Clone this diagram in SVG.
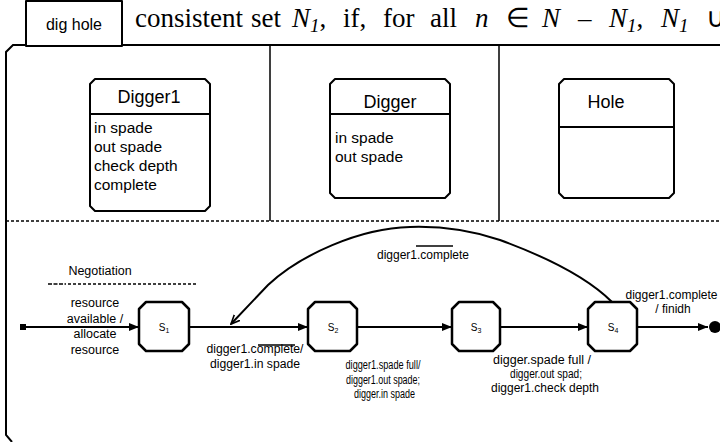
<svg xmlns="http://www.w3.org/2000/svg" width="720" height="442" viewBox="0 0 720 442">
<defs>
<style>
.sans{font-family:"Liberation Sans",Arial,sans-serif;fill:#000}
.serif{font-family:"Liberation Serif","Times New Roman",serif;fill:#000;font-size:27px}
.it{font-style:italic}
.box{fill:#fff;stroke:#000;stroke-width:2;stroke-linejoin:round}
.state{fill:#fff;stroke:#000;stroke-width:2.5;stroke-linejoin:round}
.rule{fill:none;stroke:#000;stroke-width:2}
.thin{fill:none;stroke:#000;stroke-width:1.5}
.dot{fill:none;stroke:#000;stroke-width:1.5;stroke-dasharray:3 2}
.edge{fill:none;stroke:#000;stroke-width:2}
.title{font-size:18px;text-anchor:middle}
.attr{font-size:15.5px}
.lbl{font-size:12px;text-anchor:middle}
.sm{font-size:12.5px;text-anchor:middle}
.sname{font-size:10px;text-anchor:middle}
</style>
<marker id="head" viewBox="0 0 10 8" refX="10" refY="4" markerWidth="10" markerHeight="8" markerUnits="userSpaceOnUse" orient="auto">
<path d="M0,0 L10,4 L0,8 Z" fill="#000"/>
</marker>
<marker id="vhead" viewBox="0 0 10 10" refX="9" refY="5" markerWidth="10" markerHeight="10" markerUnits="userSpaceOnUse" orient="auto">
<path d="M0,1 L9,5 L0,9" fill="none" stroke="#000" stroke-width="1.6"/>
</marker>
</defs>

<!-- running text line above the frame -->
<g id="caption">
<text class="serif" y="27"><tspan x="135">consistent</tspan><tspan x="251">set</tspan><tspan x="292" class="it">N</tspan><tspan class="it" font-size="19" dy="5">1</tspan><tspan dy="-5">,</tspan><tspan x="343">if,</tspan><tspan x="383">for</tspan><tspan x="430">all</tspan><tspan x="475" class="it">n</tspan><tspan x="506">∈</tspan><tspan x="542" class="it">N</tspan><tspan x="578">–</tspan><tspan x="609" class="it">N</tspan><tspan class="it" font-size="19" dy="5">1</tspan><tspan dy="-5">,</tspan><tspan x="661" class="it">N</tspan><tspan class="it" font-size="19" dy="5">1</tspan><tspan x="706" dy="-5">∪</tspan></text>
</g>

<!-- outer frame, swimlane dividers and the state-machine separator -->
<g id="frame">
<path class="rule" d="M720,45 H13 L6,52 V435 L12,442"/>
<path class="thin" d="M270,45 V221 M499,45 V221"/>
<path class="dot" d="M6,221 H720"/>
</g>

<g id="dig-hole">
<rect class="box" x="26" y="1" width="96" height="45"/>
<text class="sans" x="74" y="30" font-size="16" text-anchor="middle">dig hole</text>
</g>

<!-- role classes -->
<g id="digger1">
<path class="box" d="M95,79 H205 L210,84 V206 L205,211 H95 L90,206 V84 Z"/>
<path class="rule" d="M90,114 H210"/>
<text class="sans title" x="149" y="103">Digger1</text>
<text class="sans attr" x="94" y="133">in spade</text>
<text class="sans attr" x="94" y="152">out spade</text>
<text class="sans attr" x="94" y="171">check depth</text>
<text class="sans attr" x="94" y="190">complete</text>
</g>

<g id="digger">
<path class="box" d="M335,79 H445 L450,84 V193 L445,198 H335 L330,193 V84 Z"/>
<path class="rule" d="M330,114 H450"/>
<text class="sans title" x="390" y="108">Digger</text>
<text class="sans attr" x="335" y="143">in spade</text>
<text class="sans attr" x="335" y="162">out spade</text>
</g>

<g id="hole">
<path class="box" d="M564,79 H669 L674,84 V193 L669,198 H564 L559,193 V84 Z"/>
<path class="rule" d="M559,127 H674"/>
<text class="sans title" x="606" y="108">Hole</text>
</g>

<!-- negotiation heading -->
<g id="negotiation">
<text class="sans" x="100" y="275" font-size="12.5" text-anchor="middle">Negotiation</text>
<path class="thin" d="M48,284 H66" stroke-dasharray="4 1.5"/>
<path class="dot" d="M68,284 H197"/>
</g>

<!-- states -->
<g id="initial">
<rect x="20" y="324" width="6" height="6" fill="#000"/>
</g>
<g id="s1">
<path class="state" d="M146,302 H182 L189,309 V344 L182,351 H146 L139,344 V309 Z"/>
<text class="sans sname" x="164" y="331">S<tspan font-size="7" dy="2">1</tspan></text>
</g>
<g id="s2">
<path class="state" d="M315,302 H350 L357,309 V344 L350,351 H315 L308,344 V309 Z"/>
<text class="sans sname" x="333" y="331">S<tspan font-size="7" dy="2">2</tspan></text>
</g>
<g id="s3">
<path class="state" d="M459,302 H493 L500,309 V344 L493,351 H459 L452,344 V309 Z"/>
<text class="sans sname" x="476" y="331">S<tspan font-size="7" dy="2">3</tspan></text>
</g>
<g id="s4">
<path class="state" d="M595,302 H630 L637,309 V344 L630,351 H595 L588,344 V309 Z"/>
<text class="sans sname" x="613" y="331">S<tspan font-size="7" dy="2">4</tspan></text>
</g>
<g id="final">
<circle cx="715" cy="327" r="6" fill="#000"/>
</g>

<!-- transitions -->
<g id="connectors">
<path class="edge" d="M26,327 H139" marker-end="url(#head)"/>
<path class="edge" d="M189,327 H308" marker-end="url(#head)"/>
<path class="edge" d="M357,327 H452" marker-end="url(#head)"/>
<path class="edge" d="M500,327 H588" marker-end="url(#head)"/>
<path class="edge" d="M637,327 H708" marker-end="url(#head)"/>
<path class="edge" d="M612,302 C592,282 560,262 500,240 C470,230 440,226 410,227 C360,228 300,255 268,285 L231,324" marker-end="url(#vhead)"/>
</g>

<!-- transition labels -->
<g id="labels">
<text class="sans" font-size="12.5" text-anchor="middle"><tspan x="95" y="307">resource</tspan><tspan x="95" y="322.5">available /</tspan><tspan x="95" y="338">allocate</tspan><tspan x="95" y="353.5">resource</tspan></text>

<text class="sans lbl" x="423" y="259">digger1.complete</text>
<path class="thin" d="M416,246 H453"/>

<text class="sans lbl" x="255" y="353" textLength="97" lengthAdjust="spacingAndGlyphs">digger1.complete/</text>
<text class="sans lbl" x="255" y="368" textLength="90" lengthAdjust="spacingAndGlyphs">digger1.in spade</text>
<path class="thin" d="M258,345 H295"/>

<text class="sans sm" x="383" y="369" textLength="75" lengthAdjust="spacingAndGlyphs">digger1.spade full/</text>
<text class="sans sm" x="383" y="384" textLength="74" lengthAdjust="spacingAndGlyphs">digger1.out spade;</text>
<text class="sans sm" x="384.5" y="398" textLength="61" lengthAdjust="spacingAndGlyphs">digger.in spade</text>

<text class="sans sm" x="542" y="363.5" textLength="98" lengthAdjust="spacingAndGlyphs">digger.spade full /</text>
<text class="sans sm" x="546" y="377.5" textLength="72" lengthAdjust="spacingAndGlyphs">digger.out spad;</text>
<text class="sans sm" x="545" y="392" textLength="108" lengthAdjust="spacingAndGlyphs">digger1.check depth</text>

<text class="sans lbl" x="671.5" y="299">digger1.complete</text>
<text class="sans lbl" x="673" y="312.5">/ finidh</text>
</g>
</svg>
